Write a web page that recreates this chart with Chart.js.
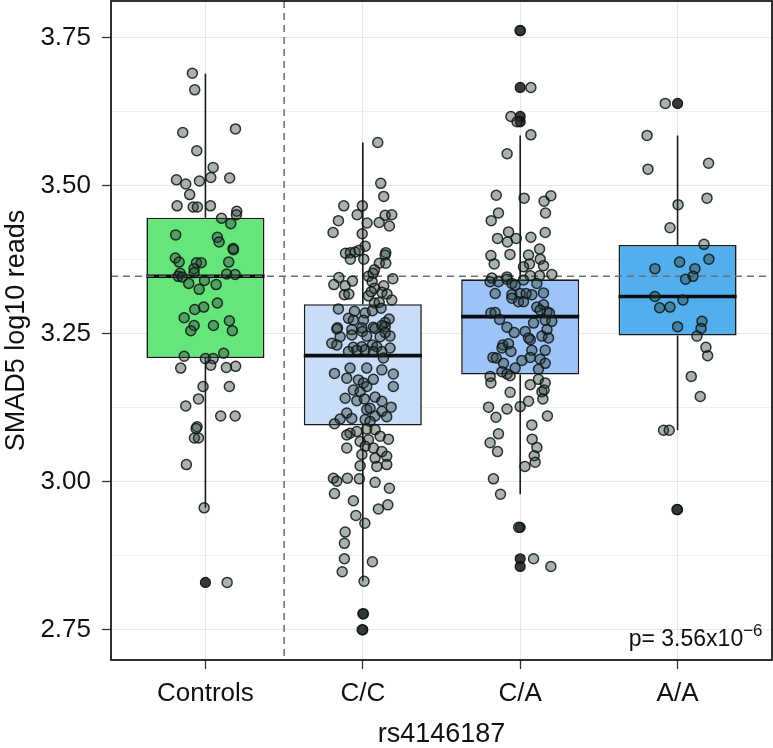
<!DOCTYPE html>
<html>
<head>
<meta charset="utf-8">
<script src="https://cdn.jsdelivr.net/npm/chart.js@4.4.1/dist/chart.umd.min.js"></script>
<style>
  html, body { margin: 0; padding: 0; background: #fff; }
  #wrap { width: 773px; height: 748px; }
</style>
</head>
<body>
<div id="wrap"><canvas id="smadChart"></canvas></div>
<script>
// groups on the x axis
const groups = ['Controls', 'C/C', 'C/A', 'A/A'];

// box summaries (per group)
const boxLow = [3.209, 3.095, 3.181, 3.247];
const boxMedian = [3.347, 3.213, 3.279, 3.313];
const boxHigh = [3.446, 3.300, 3.342, 3.400];
const whiskerLow = [2.956, 2.832, 2.979, 3.087];
const whiskerHigh = [3.689, 3.573, 3.585, 3.585];
const boxColors = ['#66e57a', '#c9ddfb', '#9dc4f8', '#52aeec'];

// reference lines
const controlsMedianLine = 3.347;
const splitLine = 1.5;

// y ticks
const yTicks = [2.75, 3.00, 3.25, 3.50, 3.75];
const yMinorTicks = [2.875, 3.125, 3.375, 3.625];

// outliers [group, value]
const outliers = [
  [1, 2.830], [2, 2.777], [2, 2.750],
  [3, 3.762], [3, 3.666], [3, 3.617], [3, 3.608], [3, 2.923], [3, 2.870], [3, 2.857],
  [4, 3.639], [4, 2.953]
];

// jittered samples [offset from group centre, value]
const controlsPoints = [
  [-0.083,3.690],[-0.068,3.662],[-0.144,3.590],[0.191,3.596],[-0.055,3.559],[0.049,3.531],[-0.184,3.510],
  [-0.125,3.503],[-0.038,3.508],[0.034,3.514],[0.154,3.513],[-0.100,3.485],[-0.180,3.466],[-0.078,3.464],
  [-0.051,3.464],[0.032,3.466],[0.199,3.457],[0.197,3.451],[0.102,3.445],[-0.189,3.417],[0.076,3.413],
  [0.087,3.405],[0.161,3.436],[0.176,3.394],[0.178,3.392],[-0.191,3.378],[-0.167,3.371],[-0.057,3.370],
  [-0.027,3.370],[-0.072,3.360],[0.148,3.371],[-0.161,3.352],[-0.173,3.347],[-0.148,3.346],[-0.072,3.353],
  [0.135,3.351],[0.189,3.350],[-0.106,3.335],[-0.006,3.340],[0.068,3.333],[-0.040,3.325],[0.076,3.302],
  [-0.011,3.295],[-0.068,3.291],[-0.135,3.277],[-0.072,3.264],[-0.093,3.255],[0.051,3.264],[0.152,3.272],
  [0.171,3.255],[-0.135,3.212],[0.116,3.217],[0.000,3.208],[0.049,3.208],[0.034,3.197],[-0.157,3.192],
  [0.133,3.193],[0.192,3.195],[-0.015,3.161],[0.152,3.161],[-0.044,3.140],[-0.125,3.128],[0.097,3.111],
  [0.189,3.111],[-0.053,3.093],[-0.059,3.090],[-0.070,3.074],[-0.044,3.074],[-0.121,3.029],[-0.008,2.956],
  [0.138,2.830]
];

const ccPoints = [
  [0.095,3.573],[0.114,3.504],[0.133,3.482],[-0.121,3.466],[-0.003,3.466],[-0.155,3.441],[-0.036,3.451],
  [0.142,3.450],[0.184,3.451],[0.104,3.438],[0.027,3.437],[0.169,3.432],[-0.189,3.421],[-0.004,3.419],
  [0.015,3.398],[-0.110,3.386],[-0.079,3.387],[-0.049,3.388],[-0.023,3.391],[-0.079,3.376],[0.006,3.376],
  [0.146,3.387],[0.142,3.383],[0.105,3.369],[0.146,3.369],[0.074,3.358],[-0.152,3.345],[0.036,3.347],
  [0.065,3.352],[0.191,3.343],[-0.184,3.333],[-0.112,3.331],[-0.066,3.339],[0.059,3.338],[0.133,3.331],
  [0.074,3.327],[-0.117,3.316],[-0.089,3.317],[0.036,3.314],[0.053,3.321],[0.121,3.320],[0.154,3.317],
  [0.184,3.307],[0.074,3.302],[0.104,3.303],
  [-0.155,3.292],[-0.053,3.288],[0.015,3.285],[0.061,3.289],[0.116,3.293],[-0.091,3.276],[-0.060,3.273],
  [0.004,3.273],[0.167,3.275],[0.142,3.269],[-0.161,3.260],[-0.006,3.260],[0.067,3.261],[0.142,3.262],
  [-0.165,3.258],[-0.070,3.257],[-0.003,3.254],[0.078,3.259],[0.121,3.264],[0.173,3.246],[0.142,3.252],
  [-0.144,3.245],[-0.070,3.248],[0.025,3.246],[0.110,3.245],[-0.197,3.234],[-0.165,3.231],[-0.060,3.227],
  [-0.006,3.228],[0.061,3.231],[0.089,3.228],[0.173,3.226],[-0.091,3.220],[-0.038,3.222],[0.015,3.223],
  [0.067,3.220],[0.121,3.220],[0.131,3.209],
  [-0.180,3.183],[-0.081,3.192],[0.025,3.192],[0.121,3.189],[0.194,3.182],[-0.102,3.175],[-0.028,3.172],
  [0.067,3.173],[0.194,3.161],[0.004,3.167],[0.025,3.161],[-0.060,3.155],[-0.017,3.152],[-0.112,3.141],
  [-0.038,3.137],[0.010,3.140],[0.078,3.143],[0.121,3.136],[0.180,3.126],[-0.102,3.116],[0.025,3.122],
  [0.046,3.124],[0.121,3.119],[0.152,3.110],[0.078,3.111],[-0.144,3.106],[-0.070,3.107],[-0.180,3.098],
  [0.015,3.105],[0.046,3.102],
  [-0.081,3.082],[-0.102,3.079],[-0.038,3.085],[0.025,3.089],[0.078,3.088],[-0.017,3.068],[0.036,3.071],
  [0.110,3.077],[0.163,3.072],[-0.102,3.057],[0.015,3.060],[0.067,3.057],[0.121,3.051],[-0.006,3.046],
  [0.152,3.043],[0.078,3.040],[-0.017,3.027],[0.089,3.026],[0.152,3.029],
  [-0.187,3.006],[-0.165,3.001],[-0.180,2.980],[-0.098,3.006],[-0.022,3.005],[0.078,2.999],[0.169,2.989],
  [-0.060,2.968],[0.099,2.954],[0.159,2.961],[-0.044,2.943],[0.013,2.930],[-0.112,2.915],[-0.117,2.896],
  [-0.117,2.870],[-0.131,2.848],[0.061,2.865],[0.008,2.832],[0.004,2.777],[-0.004,2.750]
];

const caPoints = [
  [0.000,3.762],[0.068,3.666],[-0.059,3.617],[-0.020,3.608],
  [0.068,3.586],[-0.083,3.554],[-0.152,3.484],[0.025,3.479],[0.152,3.474],[0.195,3.483],[-0.138,3.454],
  [-0.184,3.441],[0.161,3.454],[-0.074,3.422],[-0.144,3.411],[-0.081,3.405],[-0.025,3.411],[0.068,3.413],
  [0.159,3.421],[0.123,3.393],[-0.186,3.382],[-0.165,3.368],[-0.065,3.384],[0.053,3.383],[0.127,3.376],
  [0.148,3.365],[0.059,3.368],[0.021,3.363],[0.201,3.350],[0.123,3.348],[0.064,3.348],[-0.084,3.346],
  [-0.180,3.344],
  [-0.191,3.338],[-0.138,3.338],[-0.084,3.342],[-0.053,3.335],[-0.032,3.332],[0.021,3.341],[0.106,3.335],
  [-0.159,3.318],[-0.053,3.316],[0.000,3.318],[0.074,3.316],[0.038,3.318],[0.148,3.319],[-0.011,3.304],
  [0.021,3.304],[-0.053,3.310],
  [0.106,3.295],[0.148,3.299],[0.170,3.287],[0.127,3.290],[0.186,3.285],[-0.186,3.285],[-0.159,3.286],
  [-0.131,3.274],[0.159,3.273],[0.201,3.271],[0.085,3.268],
  [-0.084,3.261],[-0.038,3.252],[0.032,3.254],[0.170,3.257],[0.138,3.246],[0.180,3.243],[0.064,3.240],
  [0.053,3.243],[-0.110,3.231],[-0.074,3.233],[-0.059,3.220],[-0.116,3.226],[0.074,3.222],[0.159,3.222],
  [0.011,3.205],[0.064,3.210],[0.127,3.207],[0.159,3.200],[-0.173,3.210],[-0.152,3.209],[-0.106,3.200],
  [-0.032,3.192],[-0.116,3.186],[-0.084,3.182],[-0.064,3.179],[0.116,3.190],
  [-0.191,3.178],[-0.186,3.167],[0.064,3.164],[0.116,3.173],[0.159,3.167],[-0.064,3.151],[0.138,3.152],
  [0.152,3.155],[0.144,3.140],[-0.201,3.126],[-0.084,3.123],[0.000,3.127],[0.053,3.136],[-0.154,3.109],
  [0.173,3.111],[0.074,3.096],
  [-0.138,3.081],[-0.191,3.066],[-0.144,3.051],[0.076,3.072],[0.106,3.058],[0.089,3.044],[0.095,3.033],
  [0.030,3.026],[-0.170,3.005],[-0.125,2.979],
  [-0.010,2.923],[0.085,2.870],[0.195,2.857]
];

const aaPoints = [
  [-0.078,3.639],[-0.194,3.585],[-0.188,3.528],[0.197,3.538],[0.003,3.468],[0.187,3.479],[-0.048,3.429],
  [0.168,3.401],[0.199,3.376],[0.013,3.371],[-0.144,3.360],[0.110,3.360],[0.098,3.347],[0.051,3.342],
  [-0.144,3.313],[0.034,3.307],[-0.114,3.294],[-0.048,3.295],[0.000,3.262],[0.155,3.271],[0.149,3.259],
  [0.123,3.246],[0.180,3.227],[0.191,3.213],[0.087,3.178],[0.144,3.144],[-0.089,3.087],[-0.053,3.087],
  [-0.004,2.953]
];

const FONT = "'Liberation Sans', Arial, Helvetica, sans-serif";
Chart.defaults.font.family = FONT;

function toXY(points, groupIndex) {
  return points.map(p => ({ x: groupIndex + p[0], y: p[1] }));
}

const jitterData = [].concat(
  toXY(controlsPoints, 1),
  toXY(ccPoints, 2),
  toXY(caPoints, 3),
  toXY(aaPoints, 4)
);

const gridColor = '#e3e9e9';
const inkColor = '#1a1a1a';

// whiskers, medians, dashed reference lines, drawn right after the boxes
const boxExtras = {
  id: 'boxExtras',
  afterDatasetDraw(chart, args) {
    if (args.meta.type !== 'bar') return;
    const { ctx, chartArea, scales: { x, y } } = chart;
    ctx.save();
    ctx.strokeStyle = inkColor;
    ctx.lineWidth = 1.6;
    groups.forEach((g, i) => {
      const cx = x.getPixelForValue(i + 1);
      ctx.beginPath();
      ctx.moveTo(cx, y.getPixelForValue(boxHigh[i]));
      ctx.lineTo(cx, y.getPixelForValue(whiskerHigh[i]));
      ctx.moveTo(cx, y.getPixelForValue(boxLow[i]));
      ctx.lineTo(cx, y.getPixelForValue(whiskerLow[i]));
      ctx.stroke();
    });
    ctx.lineWidth = 3.6;
    ctx.strokeStyle = '#0d0d0d';
    groups.forEach((g, i) => {
      const my = y.getPixelForValue(boxMedian[i]);
      ctx.beginPath();
      ctx.moveTo(x.getPixelForValue(i + 1 - 0.375), my);
      ctx.lineTo(x.getPixelForValue(i + 1 + 0.375), my);
      ctx.stroke();
    });
    ctx.setLineDash([7, 5]);
    ctx.lineWidth = 1.5;
    ctx.strokeStyle = '#6a6e6e';
    const hy = y.getPixelForValue(controlsMedianLine);
    ctx.beginPath();
    ctx.moveTo(chartArea.left, hy);
    ctx.lineTo(chartArea.right, hy);
    const vx = x.getPixelForValue(splitLine);
    ctx.moveTo(vx, chartArea.top);
    ctx.lineTo(vx, chartArea.bottom);
    ctx.stroke();
    ctx.restore();
  }
};

// panel border and p-value note
const panelFrame = {
  id: 'panelFrame',
  afterDatasetsDraw(chart) {
    const { ctx, chartArea, scales: { x, y } } = chart;
    ctx.save();
    ctx.strokeStyle = inkColor;
    ctx.lineWidth = 1.8;
    ctx.strokeRect(chartArea.left, chartArea.top, chartArea.right - chartArea.left, chartArea.bottom - chartArea.top);

    const px = x.getPixelForValue(4.54);
    const py = y.getPixelForValue(2.722);
    ctx.fillStyle = '#111';
    ctx.textBaseline = 'alphabetic';
    ctx.textAlign = 'right';
    ctx.font = '17px ' + FONT;
    const sup = '\u22126';
    const supW = ctx.measureText(sup).width;
    ctx.fillText(sup, px, py - 10);
    ctx.font = '23px ' + FONT;
    ctx.fillText('p= 3.56x10', px - supW, py);
    ctx.restore();
  }
};

// no extra room for labels that overhang the panel ends
function noEndPadding(scale) {
  scale.paddingTop = 0;
  scale.paddingBottom = 0;
  scale.paddingLeft = 0;
  scale.paddingRight = 0;
}

new Chart(document.getElementById('smadChart'), {
  type: 'scatter',
  data: {
    datasets: [
      {
        label: 'samples',
        data: jitterData,
        pointRadius: 5,
        pointHoverRadius: 5,
        pointBackgroundColor: 'rgba(40, 62, 56, 0.4)',
        pointBorderColor: 'rgba(15, 20, 20, 0.85)',
        pointBorderWidth: 1.5,
        order: 0
      },
      {
        label: 'outliers',
        data: outliers.map(o => ({ x: o[0], y: o[1] })),
        pointRadius: 5,
        pointBackgroundColor: 'rgba(22, 22, 22, 0.85)',
        pointBorderColor: 'rgba(10, 10, 10, 0.9)',
        pointBorderWidth: 1.2,
        order: 1
      },
      {
        type: 'bar',
        label: 'boxes',
        data: groups.map((g, i) => ({ x: i + 1, y: [boxLow[i], boxHigh[i]] })),
        backgroundColor: boxColors,
        borderColor: inkColor,
        borderWidth: 1.6,
        borderSkipped: false,
        barPercentage: 0.75,
        categoryPercentage: 1,
        grouped: false,
        order: 2
      }
    ]
  },
  options: {
    responsive: true,
    maintainAspectRatio: false,
    animation: false,
    layout: { autoPadding: false, padding: { top: 1, right: 1, left: 0, bottom: 0 } },
    plugins: {
      legend: { display: false },
      tooltip: { enabled: false }
    },
    scales: {
      x: {
        type: 'linear',
        min: 0.4,
        max: 4.6,
        offset: false,
        afterBuildTicks: scale => {
          scale.ticks = groups.map((g, i) => ({ value: i + 1 }));
        },
        afterFit: scale => {
          scale.height = 88;
          noEndPadding(scale);
        },
        ticks: {
          callback: v => groups[v - 1],
          font: { size: 26 },
          color: '#111',
          padding: 9,
          autoSkip: false,
          maxRotation: 0
        },
        grid: { offset: false, color: gridColor, lineWidth: 1, tickLength: 9, tickColor: '#333', tickWidth: 1.3 },
        border: { display: false },
        title: {
          display: true,
          text: 'rs4146187',
          font: { size: 27 },
          color: '#111',
          padding: { top: 0, bottom: -3 }
        }
      },
      y: {
        min: 2.699,
        max: 3.812,
        afterBuildTicks: scale => {
          scale.ticks = yTicks.concat(yMinorTicks).sort((a, b) => a - b).map(v => ({ value: v }));
        },
        afterFit: scale => {
          scale.width = 111;
          noEndPadding(scale);
        },
        ticks: {
          callback: v => (yTicks.includes(v) ? v.toFixed(2) : ''),
          font: { size: 26 },
          color: '#111',
          padding: 11,
          autoSkip: false
        },
        grid: {
          color: gridColor,
          lineWidth: ctx => (ctx.tick && yMinorTicks.includes(ctx.tick.value) ? 0.7 : 1),
          tickLength: 9,
          tickColor: ctx => (ctx.tick && yMinorTicks.includes(ctx.tick.value) ? 'rgba(0,0,0,0)' : '#333'),
          tickWidth: 1.3
        },
        border: { display: false },
        title: {
          display: true,
          text: 'SMAD5 log10 reads',
          font: { size: 27 },
          color: '#111',
          padding: { top: 0, bottom: 0 }
        }
      }
    }
  },
  plugins: [boxExtras, panelFrame]
});
</script>
</body>
</html>
